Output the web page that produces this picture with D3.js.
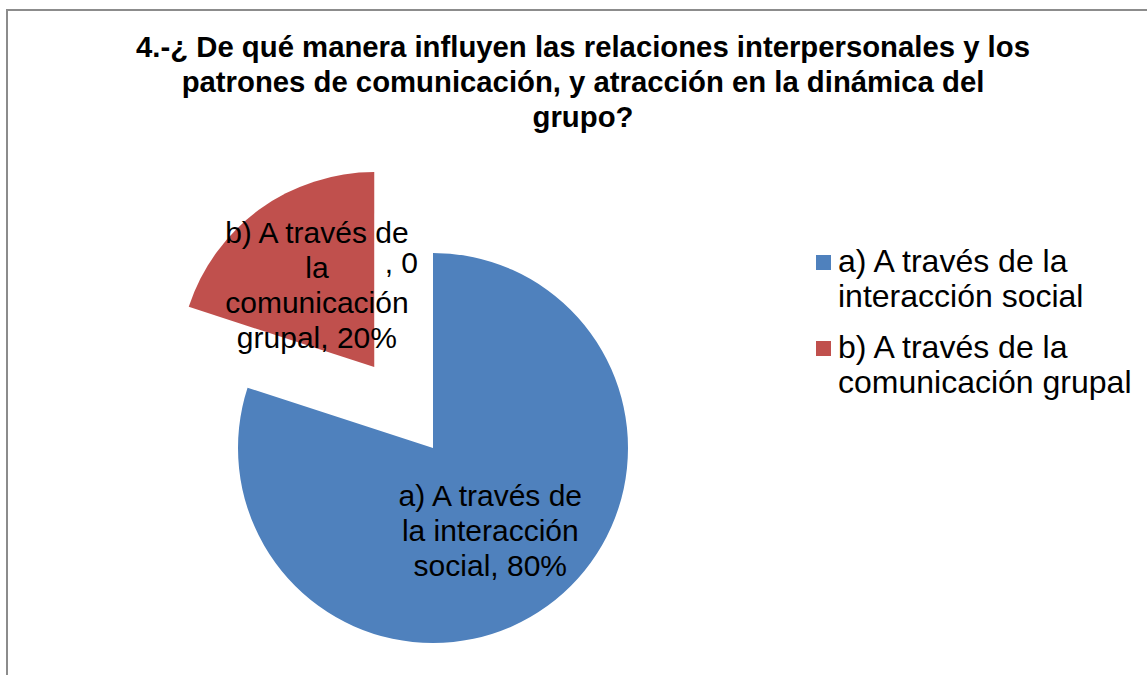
<!DOCTYPE html>
<meta charset="utf-8">
<title>Pie - relaciones interpersonales</title>
<style>
body { margin: 0; background: #fff; }
text { font-family: "Liberation Sans", Arial, sans-serif; fill: #000; }
.title { font-weight: bold; font-size: 29.3px; }
.label { font-size: 30px; }
.legend text { font-size: 32px; }
</style>
<body>
<script src="https://d3js.org/d3.v7.min.js"></script>
<script>

// data
var categories = ["a) A través de la interacción social", "b) A través de la comunicación grupal", ""];
var values = [80, 20, 0];
var colors = ["#4F81BD", "#C0504D", "#9BBB59"];
var labelLines = [
  ["a) A través de", "la interacción", "social, 80%"],
  ["b) A través de", "la", "comunicación", "grupal, 20%"],
  [", 0"]
];
var legendLines = [
  ["a) A través de la", "interacción social"],
  ["b) A través de la", "comunicación grupal"]
];
var titleLines = [
  "4.-¿ De qué manera influyen las relaciones interpersonales y los",
  "patrones de comunicación, y atracción en la dinámica del",
  "grupo?"
];

var width = 1147, height = 675;
var cx = 433, cy = 448, radius = 195;
var explode = 100;

var svg = d3.select("body").append("svg")
    .attr("width", width)
    .attr("height", height);

// chart border (only top and left visible)
svg.append("path")
    .attr("d", "M7," + height + "V10H" + width)
    .style("fill", "none")
    .style("stroke", "#8c8c8c")
    .style("stroke-width", 2);

// title
svg.append("text")
    .attr("class", "title")
    .attr("text-anchor", "middle")
  .selectAll("tspan")
    .data(titleLines)
  .enter().append("tspan")
    .attr("x", 583)
    .attr("y", function(d, i) { return 57 + i * 35; })
    .text(function(d) { return d; });

var pie = d3.pie().sort(null).value(function(d) { return d; });
var arcs = pie(values);
var arc = d3.arc().innerRadius(0).outerRadius(radius);

function offset(d) {
  if (d.index !== 1) return [0, 0];
  var a = (d.startAngle + d.endAngle) / 2;
  return [Math.sin(a) * explode, -Math.cos(a) * explode];
}

var g = svg.append("g")
    .attr("transform", "translate(" + cx + "," + cy + ")");

g.selectAll("path.slice")
    .data(arcs.filter(function(d) { return d.value > 0; }))
  .enter().append("path")
    .attr("class", "slice")
    .attr("transform", function(d) { return "translate(" + offset(d) + ")"; })
    .attr("d", arc)
    .style("fill", function(d) { return colors[d.index]; });

// data labels
var lh = 35;
arcs.forEach(function(d) {
  var a = (d.startAngle + d.endAngle) / 2;
  var o = offset(d);
  var lines = labelLines[d.index];
  var x, y, anchor = "middle";
  if (d.value > 0) {
    x = o[0] + Math.sin(a) * radius * 0.5;
    y = o[1] - Math.cos(a) * radius * 0.52;
  } else {
    x = Math.sin(a) * radius - 15;
    y = -Math.cos(a) * radius * 0.9 - 10;
    anchor = "end";
  }
  g.append("text")
      .attr("class", "label")
      .attr("text-anchor", anchor)
    .selectAll("tspan")
      .data(lines)
    .enter().append("tspan")
      .attr("x", x)
      .attr("y", function(t, i) { return y + (i - (lines.length - 1) / 2) * lh; })
      .attr("dy", "0.35em")
      .text(function(t) { return t; });
});

// legend
var legend = svg.append("g")
    .attr("class", "legend")
    .attr("transform", "translate(816,255)");

var item = legend.selectAll("g")
    .data(legendLines)
  .enter().append("g")
    .attr("transform", function(d, i) { return "translate(0," + i * 86 + ")"; });

item.append("rect")
    .attr("width", 15)
    .attr("height", 15)
    .style("fill", function(d, i) { return colors[i]; });

item.append("text")
  .selectAll("tspan")
    .data(function(d) { return d; })
  .enter().append("tspan")
    .attr("x", 22)
    .attr("y", function(t, i) { return 17 + i * 35; })
    .text(function(t) { return t; });

</script>
</body>
